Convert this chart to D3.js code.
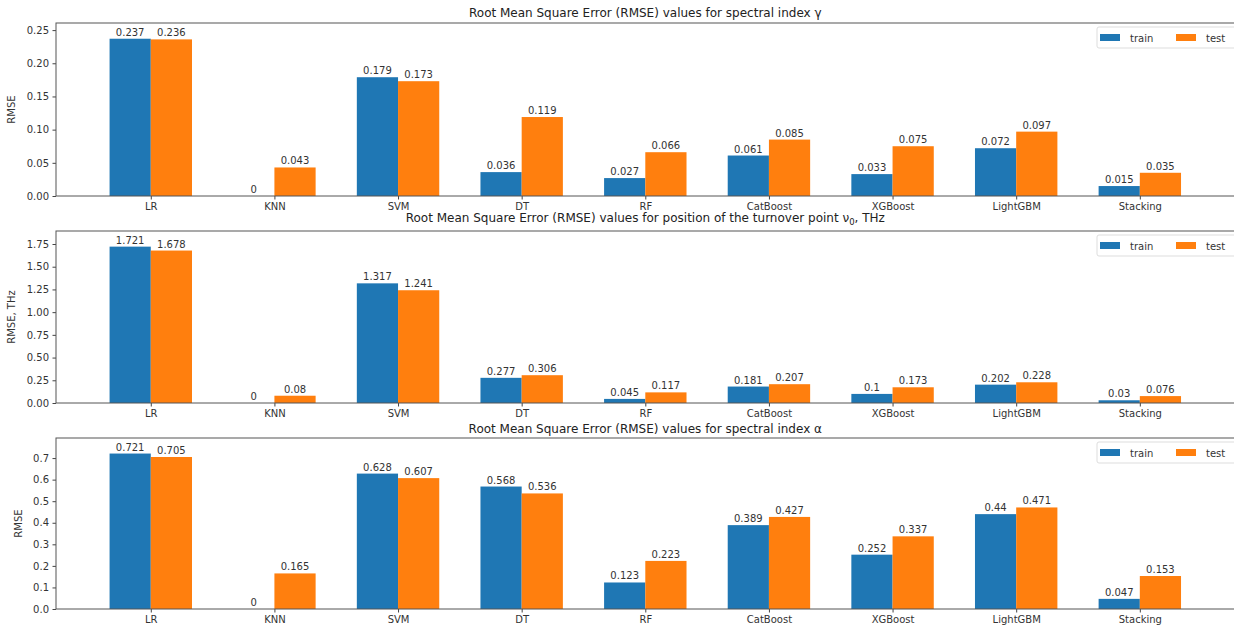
<!DOCTYPE html>
<html>
<head>
<meta charset="utf-8">
<script src="https://cdn.jsdelivr.net/npm/d3@7"></script>
<style>
  html, body { margin: 0; padding: 0; background: #fff; }
  svg { display: block; font-family: "DejaVu Sans", sans-serif; }
</style>
</head>
<body>
<svg id="chart" width="1234" height="632"></svg>
<script>
// Model names on the x axis
const models = ["LR", "KNN", "SVM", "DT", "RF", "CatBoost", "XGBoost", "LightGBM", "Stacking"];
const seriesNames = ["train", "test"];

// RMSE for spectral index gamma
const gammaTrain = [0.237, 0, 0.179, 0.036, 0.027, 0.061, 0.033, 0.072, 0.015];
const gammaTest  = [0.236, 0.043, 0.173, 0.119, 0.066, 0.085, 0.075, 0.097, 0.035];
const gammaTicks = [0, 0.05, 0.10, 0.15, 0.20, 0.25];

// RMSE for turnover point position nu0, THz
const nuTrain = [1.721, 0, 1.317, 0.277, 0.045, 0.181, 0.1, 0.202, 0.03];
const nuTest  = [1.678, 0.08, 1.241, 0.306, 0.117, 0.207, 0.173, 0.228, 0.076];
const nuTicks = [0, 0.25, 0.5, 0.75, 1.0, 1.25, 1.5, 1.75];

// RMSE for spectral index alpha
const alphaTrain = [0.721, 0, 0.628, 0.568, 0.123, 0.389, 0.252, 0.44, 0.047];
const alphaTest  = [0.705, 0.165, 0.607, 0.536, 0.223, 0.427, 0.337, 0.471, 0.153];
const alphaTicks = [0, 0.1, 0.2, 0.3, 0.4, 0.5, 0.6, 0.7];

const colors = { train: "#1f77b4", test: "#ff7f0e" };
const barW = 1 / 3;

const panels = [
  { title: [{t: "Root Mean Square Error (RMSE) values for spectral index γ"}],
    ylabel: "RMSE", train: gammaTrain, test: gammaTest, ticks: gammaTicks, fmt: d3.format(".2f"),
    top: 23, bottom: 196, ylabelX: 15, titleGap: 6 },
  { title: [{t: "Root Mean Square Error (RMSE) values for position of the turnover point ν"}, {t: "0", sub: true}, {t: ", THz"}],
    ylabel: "RMSE, THz", train: nuTrain, test: nuTest, ticks: nuTicks, fmt: d3.format(".2f"),
    top: 231, bottom: 403, ylabelX: 15, titleGap: 9 },
  { title: [{t: "Root Mean Square Error (RMSE) values for spectral index α"}],
    ylabel: "RMSE", train: alphaTrain, test: alphaTest, ticks: alphaTicks, fmt: d3.format(".1f"),
    top: 438, bottom: 609, ylabelX: 22, titleGap: 5 }
];

const left = 56, right = 1236;
const svg = d3.select("#chart");

// matplotlib-like x limits: bars span [-1/3, n-1+1/3], plus 5% margin
const xLo = -barW, xHi = models.length - 1 + barW;
const xPad = (xHi - xLo) * 0.05;
const x = d3.scaleLinear().domain([xLo - xPad, xHi + xPad]).range([left, 1234.6]);

panels.forEach(p => {
  const g = svg.append("g");
  const ymax = d3.max(p.train.concat(p.test)) * 1.1;
  const y = d3.scaleLinear().domain([0, ymax]).range([p.bottom, p.top]);

  // bars with value labels
  seriesNames.forEach((s, si) => {
    const vals = si === 0 ? p.train : p.test;
    g.selectAll(null).data(vals).enter().append("rect")
      .attr("x", (d, i) => x(i - barW + si * barW))
      .attr("width", (d, i) => x(i + si * barW) - x(i - barW + si * barW))
      .attr("y", d => y(d))
      .attr("height", d => y(0) - y(d))
      .attr("fill", colors[s]);
    g.selectAll(null).data(vals).enter().append("text")
      .attr("x", (d, i) => x(i - barW / 2 + si * barW))
      .attr("y", d => y(d) - 3)
      .attr("text-anchor", "middle")
      .attr("font-size", 10)
      .attr("fill", "#333")
      .text(d => String(d));
  });

  // axes
  const xAxis = d3.axisBottom(x).tickValues(d3.range(models.length))
    .tickFormat(i => models[i]).tickSize(3.5).tickPadding(3.5);
  const gx = g.append("g").attr("transform", `translate(0,${p.bottom})`).call(xAxis);
  gx.select(".domain").remove();
  gx.selectAll("text").attr("font-size", 10).attr("fill", "#333").attr("font-family", "DejaVu Sans");
  gx.selectAll("line").attr("stroke", "#444");

  const yAxis = d3.axisLeft(y).tickValues(p.ticks).tickFormat(p.fmt).tickSize(3.5).tickPadding(3.5);
  const gy = g.append("g").attr("transform", `translate(${left},0)`).call(yAxis);
  gy.select(".domain").remove();
  gy.selectAll("text").attr("font-size", 10).attr("fill", "#333").attr("font-family", "DejaVu Sans");
  gy.selectAll("line").attr("stroke", "#444");

  // spines
  g.append("rect").attr("x", left).attr("y", p.top)
    .attr("width", right - left).attr("height", p.bottom - p.top)
    .attr("fill", "none").attr("stroke", "#555").attr("stroke-width", 1);

  // title
  const t = g.append("text").attr("x", (left + 1234.6) / 2).attr("y", p.top - p.titleGap)
    .attr("text-anchor", "middle").attr("font-size", 12).attr("fill", "#222");
  p.title.forEach(part => {
    const ts = t.append("tspan").text(part.t);
    if (part.sub) ts.attr("font-size", 8.5).attr("dy", 3);
    else if (t.selectAll("tspan").size() > 1) ts.attr("dy", -3);
  });

  // y label
  g.append("text")
    .attr("transform", `translate(${p.ylabelX},${(p.top + p.bottom) / 2}) rotate(-90)`)
    .attr("text-anchor", "middle").attr("font-size", 10).attr("fill", "#333")
    .text(p.ylabel);

  // legend
  const lg = g.append("g").attr("transform", `translate(1097,${p.top + 4})`);
  lg.append("rect").attr("width", 140).attr("height", 21).attr("rx", 2)
    .attr("fill", "#fff").attr("fill-opacity", 0.8).attr("stroke", "#ddd");
  seriesNames.forEach((s, si) => {
    const ox = 3 + si * 76;
    lg.append("rect").attr("x", ox).attr("y", 7).attr("width", 20).attr("height", 7).attr("fill", colors[s]);
    lg.append("text").attr("x", ox + 30).attr("y", 14.5).attr("font-size", 10).attr("fill", "#333").text(s);
  });
});
</script>
</body>
</html>
